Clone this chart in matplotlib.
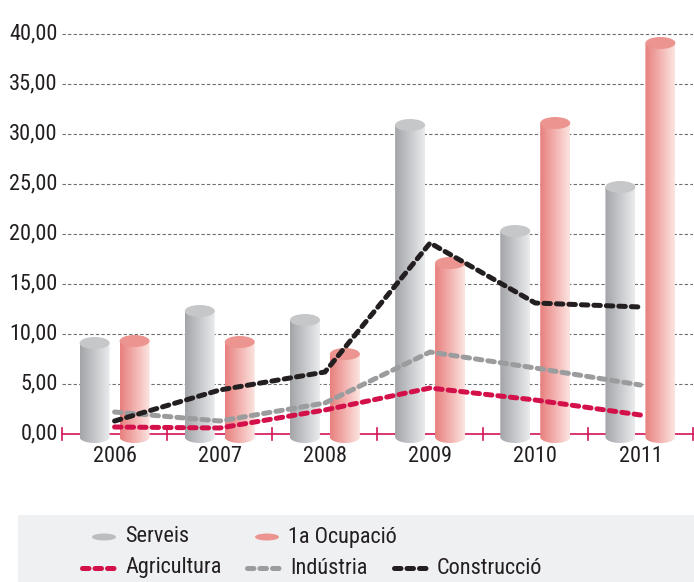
import numpy as np
import matplotlib
matplotlib.use('Agg')
import matplotlib.pyplot as plt
from matplotlib import font_manager
from matplotlib.patches import Ellipse, Polygon, Rectangle

names = {f.name for f in font_manager.fontManager.ttflist}
fam = [f for f in ['Liberation Sans Narrow', 'Roboto Condensed', 'Liberation Sans'] if f in names]
plt.rcParams['font.family'] = fam + ['DejaVu Sans']

years = ['2006', '2007', '2008', '2009', '2010', '2011']
serveis = [9.1, 12.3, 11.4, 30.9, 20.3, 24.7]
ocupacio = [9.3, 9.2, 8.0, 17.1, 31.1, 39.1]
agricultura = [0.7, 0.6, 2.4, 4.6, 3.4, 1.9]
industria = [2.2, 1.3, 3.1, 8.2, 6.6, 4.9]
construccio = [1.3, 4.4, 6.2, 19.1, 13.1, 12.7]
yticks = [0, 5, 10, 15, 20, 25, 30, 35, 40]

W, H = 694, 582
fig = plt.figure(figsize=(W / 100, H / 100), dpi=100)
ax = fig.add_axes([62 / W, (H - 444) / H, (693 - 62) / W, 420 / H])
ax.set_xlim(-0.5, 5.5)
ax.set_ylim(-1, 41)
for s in ax.spines.values():
    s.set_visible(False)
ax.set_xticks([])
ax.set_yticks([])

fs = 16

# grid
for v in yticks:
    if v > 0:
        ax.axhline(v, color='#6d6e71', lw=0.8, ls=(0, (3, 2)), zorder=0)
    ax.annotate(f'{v:.2f}'.replace('.', ','), (0, v), xycoords=('axes fraction', 'data'),
                xytext=(-3, 0), textcoords='offset points', ha='right', va='center',
                fontsize=fs, color='#231f20')

# pink axis
axis_c = '#d4145a'
ax.plot([-0.5, 5.5], [0, 0], color=axis_c, lw=1.2, zorder=1, clip_on=False)
for b in np.arange(-0.5, 6.0, 1.0):
    ax.plot([b, b], [-0.6, 0.6], color=axis_c, lw=1.2, zorder=1, clip_on=False)

for i, y in enumerate(years):
    ax.text(i, -1.2, y, ha='center', va='top', fontsize=fs, color='#231f20')

bw = 0.285
eh = 1.2


def cylinder(xc, v, c_left, c_right, c_top):
    x0, x1 = xc - bw / 2, xc + bw / 2
    t = np.linspace(np.pi, 2 * np.pi, 40)
    bottom = np.column_stack([xc + bw / 2 * np.cos(t), -0.3 + eh / 2 * np.sin(t)])
    pts = np.vstack([[[x0, v]], [[x0, -0.3]], bottom, [[x1, -0.3]], [[x1, v]]])
    poly = Polygon(pts, closed=True, fc='none', ec='none')
    ax.add_patch(poly)
    cmap = matplotlib.colors.LinearSegmentedColormap.from_list('g', [c_left, c_right])
    grad = np.linspace(0, 1, 64)[None, :]
    im = ax.imshow(grad, cmap=cmap, extent=[x0, x1, -1.2, v + 0.1], aspect='auto',
                   zorder=2, interpolation='bilinear')
    im.set_clip_path(poly)
    ax.add_patch(Ellipse((xc, v), bw, eh, fc=c_top, ec='none', zorder=2.1))


for i in range(len(years)):
    cylinder(i - 0.19, serveis[i], '#a4a5a9', '#eaebed', '#c6c7c9')
    cylinder(i + 0.19, ocupacio[i], '#e8807e', '#fce4e0', '#ec9490')

x = np.arange(len(years))
lw = 3.6
dash = (0, (1.3, 1.2))
lines = [(agricultura, '#d4104a', 'Agricultura'),
         (industria, '#9b9c9e', 'Indústria'),
         (construccio, '#231f20', 'Construcció')]
for vals, c, lab in lines:
    ax.plot(x, vals, color=c, lw=lw, ls=dash, dash_capstyle='round', zorder=3)
ax.set_xlim(-0.5, 5.5)
ax.set_ylim(-1, 41)

# legend box
leg = fig.add_axes([18 / W, 0, (W - 18) / W, 67 / H])
leg.set_xlim(18, W)
leg.set_ylim(H, H - 67)
leg.axis('off')
leg.add_patch(Rectangle((18, H - 67), W - 18, 67, fc='#eff0f2', ec='none'))
leg.add_patch(Ellipse((104, 537), 24, 7, fc='#bcbdc0', ec='none'))
leg.text(125, 537, 'Serveis', va='center', ha='left', fontsize=fs, color='#231f20')
leg.add_patch(Ellipse((267, 537), 24, 7, fc='#ec9490', ec='none'))
leg.text(288, 537, '1a Ocupació', va='center', ha='left', fontsize=fs, color='#231f20')
for (vals, c, lab), x0 in zip(lines, [82, 247, 394]):
    leg.plot([x0, x0 + 35], [568, 568], color=c, lw=lw, ls=dash, dash_capstyle='round')
    leg.text(x0 + 43, 568, lab, va='center', ha='left', fontsize=fs, color='#231f20')

fig.savefig('out.png', dpi=100)
